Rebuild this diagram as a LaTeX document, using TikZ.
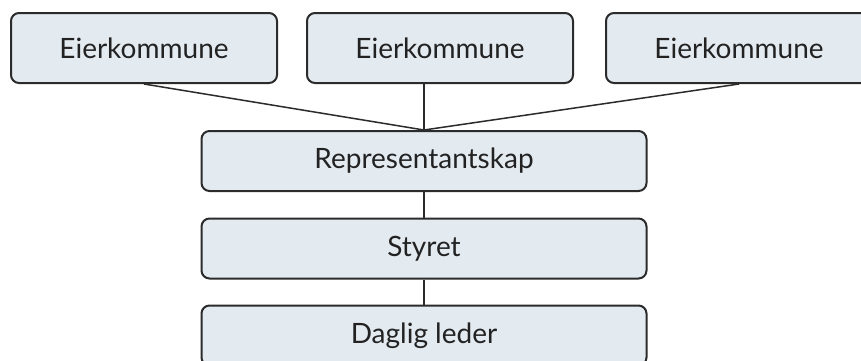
\documentclass[tikz,border=0pt]{standalone}
\usepackage{fontspec}
\setmainfont{Lato}
\usepackage{tikz}

\definecolor{boxfill}{HTML}{E3EAF0}
\definecolor{boxline}{HTML}{2B2B2B}
\definecolor{textgray}{HTML}{222222}

\begin{document}
\begin{tikzpicture}[x=1pt, y=-1pt,
    orgbox/.style = {draw=boxline, fill=boxfill, line width=2pt, rounded corners=8pt,
                     inner sep=0pt, text=textgray, font=\fontsize{28}{32}\selectfont},
    topbox/.style = {orgbox, minimum width=266pt, minimum height=70pt},
    midbox/.style = {orgbox, minimum width=445pt, minimum height=60pt},
    link/.style = {draw=boxline, line width=1.5pt}]

            \useasboundingbox (0,0) rectangle (861,360);
            \clip (0,0) rectangle (861,360);

            \node[topbox] (eier1) at (144,48) {Eierkommune};
            \node[topbox] (eier2) at (440,48) {Eierkommune};
            \node[topbox] (eier3) at (739,48) {Eierkommune};

            \node[midbox] (repr) at (424,161) {Representantskap};
            \node[midbox] (styret) at (424,248.5) {Styret};
            \node[midbox] (leder) at (424,335.5) {Daglig leder};

            \draw[link] (eier1.south) -- (repr.north);
            \draw[link] (repr.north |- eier2.south) -- (repr.north);
            \draw[link] (eier3.south) -- (repr.north);
            \draw[link] (repr) -- (styret);
            \draw[link] (styret) -- (leder);
        \end{tikzpicture}
\end{document}
